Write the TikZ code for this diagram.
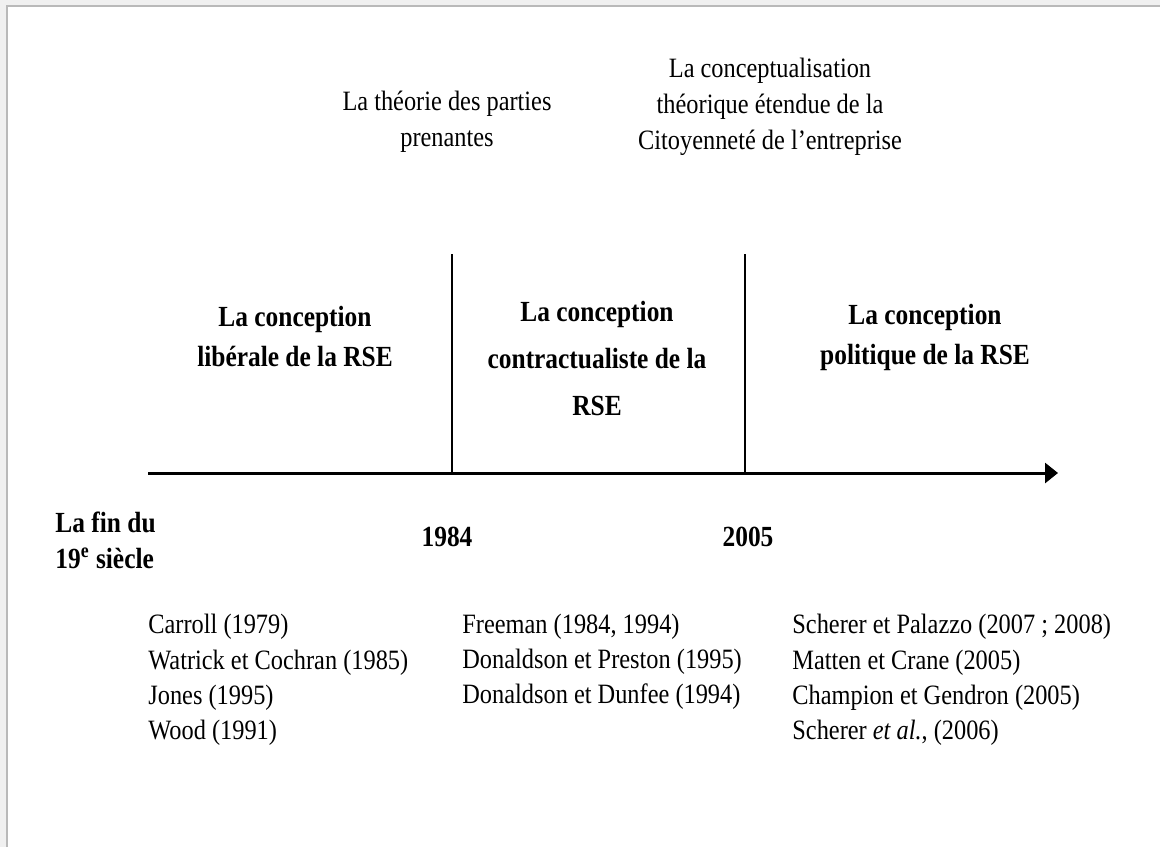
\documentclass[tikz,border=0pt]{standalone}
\usepackage{fontspec}
\setmainfont[FakeStretch=0.87]{Liberation Serif}
\usetikzlibrary{arrows.meta}
\tikzset{
  txt/.style={align=center, inner sep=0pt, font=\fontsize{14}{18}\selectfont},
  head/.style={align=center, inner sep=0pt, font=\fontsize{14.6}{20}\selectfont\bfseries},
  headmid/.style={align=center, inner sep=0pt, font=\fontsize{14.6}{23.5}\selectfont\bfseries},
  year/.style={inner sep=0pt, font=\fontsize{14.6}{18}\selectfont\bfseries},
  refs/.style={align=left, anchor=west, inner sep=0pt, font=\fontsize{14}{17.6}\selectfont},
  axisline/.style={line width=1.5pt},
  tick/.style={line width=1.2pt}
}
\begin{document}
\begin{tikzpicture}[x=0.5pt,y=-0.5pt]
\useasboundingbox (0,0) rectangle (1160,847);
\fill[gray!12] (0,0) rectangle (1160,847);
\fill[white] (7,6) rectangle (1160,847);
\draw[gray!55, line width=1pt] (7,847) -- (7,6) -- (1160,6);
% axis
\coordinate (a0) at (148,473);
\coordinate (a1) at (1058,473);
\draw[axisline, -{Triangle[length=6.5pt,width=10pt]}] (a0) -- (a1);
\coordinate (t1b) at (452,473);
\coordinate (t1t) at (452,254);
\coordinate (t2b) at (745,473);
\coordinate (t2t) at (745,254);
\draw[tick] (t1b) -- (t1t);
\draw[tick] (t2b) -- (t2t);
% top labels
\node[txt] (pp) at (447,122) {La théorie des parties\\prenantes};
\node[txt] (ce) at (770,107) {La conceptualisation\\théorique étendue de la\\Citoyenneté de l’entreprise};
% headings
\node[head] (h1) at (295,337) {La conception\\libérale de la RSE};
\node[headmid] (h2) at (597,359) {La conception\\contractualiste de la\\RSE};
\node[head] (h3) at (925,337) {La conception\\politique de la RSE};
% years
\node[year, align=left, anchor=west] (y0) at (55,540) {La fin du\\19\textsuperscript{e} siècle};
\node[year] (y1) at (447,537) {1984};
\node[year] (y2) at (748,537) {2005};
% references
\node[refs] (r1) at (148,680) {Carroll (1979)\\Watrick et Cochran (1985)\\Jones (1995)\\Wood (1991)};
\node[refs] (r2) at (462,662) {Freeman (1984, 1994)\\Donaldson et Preston (1995)\\Donaldson et Dunfee (1994)};
\node[refs] (r3) at (792,680) {Scherer et Palazzo (2007 ; 2008)\\Matten et Crane (2005)\\Champion et Gendron (2005)\\Scherer \textit{et al.}, (2006)};
\end{tikzpicture}
\end{document}
